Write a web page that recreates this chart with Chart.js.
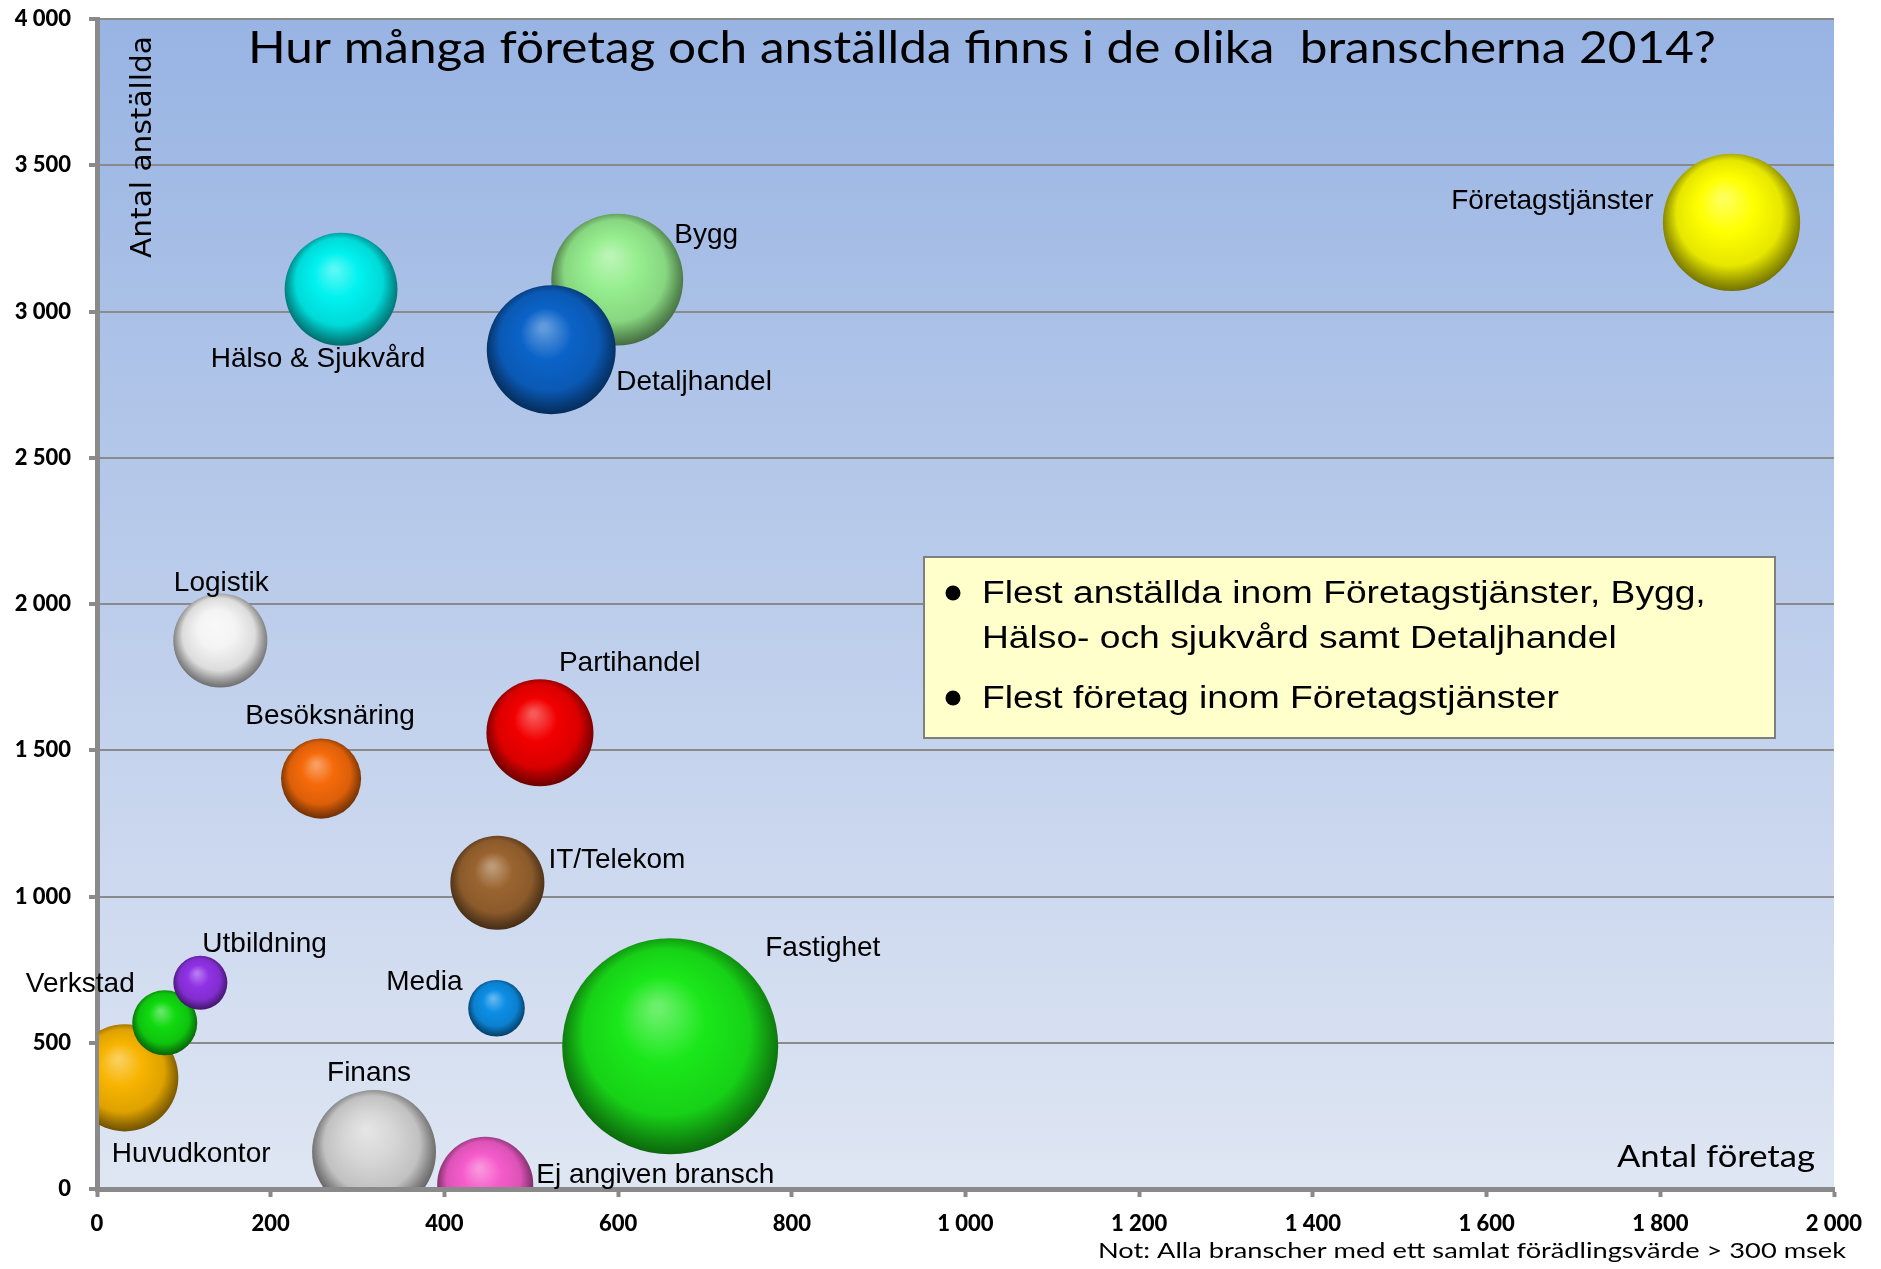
<!DOCTYPE html>
<html lang="sv">
<head>
<meta charset="utf-8">
<title>Företag och anställda per bransch 2014</title>
<script src="https://cdn.jsdelivr.net/npm/chart.js@4.4.1/dist/chart.umd.min.js"></script>
<style>
  html, body { margin: 0; padding: 0; background: #fff; }
  #wrap { width: 1881px; height: 1269px; }
</style>
</head>
<body>
<div id="wrap"><canvas id="chart" width="1881" height="1269"></canvas></div>
<script>
// Data
const branscher = ['Företagstjänster', 'Bygg', 'Detaljhandel', 'Hälso & Sjukvård', 'Logistik',
  'Partihandel', 'Besöksnäring', 'IT/Telekom', 'Fastighet', 'Media', 'Huvudkontor',
  'Verkstad', 'Utbildning', 'Finans', 'Ej angiven bransch'];
const antalForetag = [1882, 599, 523, 281, 142, 510, 258, 461, 660, 460, 32, 78, 119, 319, 447];
const antalAnstallda = [3305, 3109, 2869, 3076, 1875, 1560, 1403, 1047, 488, 618, 380, 568, 705, 127, 14];
// bubblans storlek (ytan) – relativt värde
const bubbelStorlek = [1940, 1790, 1710, 1310, 910, 1180, 660, 910, 4800, 330, 1180, 435, 300, 1580, 950];
const xTicks = [0, 200, 400, 600, 800, 1000, 1200, 1400, 1600, 1800, 2000];
const yTicks = [0, 500, 1000, 1500, 2000, 2500, 3000, 3500, 4000];

const titel = 'Hur många företag och anställda finns i de olika  branscherna 2014?';
const punkter = [
  ['Flest anställda inom Företagstjänster, Bygg,', 'Hälso- och sjukvård samt Detaljhandel'],
  ['Flest företag inom Företagstjänster']
];
const fotnot = 'Not: Alla branscher med ett samlat förädlingsvärde > 300 msek';

// stil
const farger = ['#FFFF00', '#96EE8E', '#0B63C8', '#00F2F0', '#F4F4F4', '#F20000', '#F56A0A',
  '#9A6430', '#1AE81A', '#0C8EE6', '#F7B400', '#10DA10', '#9032E6', '#D6D6D6', '#F55CCB'];
// etikettens läge relativt bubblans mitt: [dx, dy (baslinje), justering]
const etikettLage = [[-78, -13, 'right'], [57, -37, 'left'], [65, 40, 'left'], [-23, 78, 'center'],
  [1, -50, 'center'], [19, -62, 'left'], [9, -55, 'center'], [51, -15, 'left'], [95, -90, 'left'],
  [-34, -18, 'right'], [-13, 84, 'left'], [-30, -31, 'right'], [2, -31, 'left'], [-5, -71, 'center'],
  [51, -2, 'left']];
const bubbelSkala = 108 / Math.sqrt(4800);
const gra = '#8A8A8A';

function blanda(hex, mot, t) {
  const n = parseInt(hex.slice(1), 16);
  const c = [(n >> 16) & 255, (n >> 8) & 255, n & 255];
  return 'rgb(' + c.map((v, i) => Math.round(v + (mot[i] - v) * t)).join(',') + ')';
}

function klotFarg(ctx) {
  const i = ctx.dataIndex;
  const bas = farger[i] || '#888888';
  const chart = ctx.chart;
  if (ctx.type !== 'data' || !chart.chartArea || !ctx.raw) return bas;
  const x = chart.scales.x.getPixelForValue(ctx.raw.x);
  const y = chart.scales.y.getPixelForValue(ctx.raw.y);
  const r = ctx.raw.r;
  const g = chart.ctx.createRadialGradient(x - r * 0.12, y - r * 0.35, r * 0.05, x, y - r * 0.05, r * 1.05);
  g.addColorStop(0, blanda(bas, [255, 255, 255], 0.35));
  g.addColorStop(0.35, bas);
  g.addColorStop(0.72, blanda(bas, [0, 0, 0], 0.1));
  g.addColorStop(0.9, blanda(bas, [0, 0, 0], 0.4));
  g.addColorStop(1, blanda(bas, [0, 0, 0], 0.55));
  return g;
}

function skrivText(ctx, text, x, y, font, align, bredd) {
  ctx.save();
  ctx.font = font;
  ctx.textAlign = 'left';
  ctx.textBaseline = 'alphabetic';
  const w = ctx.measureText(text).width;
  const sx = bredd ? bredd / w : 1;
  const vanster = align === 'right' ? x - w * sx : align === 'center' ? x - w * sx / 2 : x;
  ctx.translate(vanster, y);
  ctx.scale(sx, 1);
  ctx.fillText(text, 0, 0);
  ctx.restore();
}

function tusental(v) {
  return String(v).replace(/\B(?=(\d{3})+(?!\d))/g, ' ');
}

const bakgrund = {
  id: 'bakgrund',
  beforeDraw(chart) {
    const { ctx, chartArea: a } = chart;
    ctx.save();
    ctx.fillStyle = '#fff';
    ctx.fillRect(0, 0, chart.width, chart.height);
    const g = ctx.createLinearGradient(0, a.top, 0, a.bottom);
    g.addColorStop(0, '#98B4E3');
    g.addColorStop(0.5, '#BCCDEB');
    g.addColorStop(1, '#DFE6F3');
    ctx.fillStyle = g;
    ctx.fillRect(a.left, a.top, a.right - a.left, a.bottom - a.top);
    ctx.restore();
  }
};

const texter = {
  id: 'texter',
  afterDatasetsDraw(chart) {
    const { ctx } = chart;
    const meta = chart.getDatasetMeta(0);
    ctx.save();
    ctx.fillStyle = '#000';

    // bubbeletiketter
    meta.data.forEach((el, i) => {
      const [dx, dy, just] = etikettLage[i];
      skrivText(ctx, branscher[i], el.x + dx, el.y + dy, '28px "Liberation Sans", Arial, sans-serif', just);
    });

    // rubrik och axeltitlar
    skrivText(ctx, titel, 248, 63, '44px Lato, Calibri, sans-serif', 'left', 1468);
    skrivText(ctx, 'Antal företag', 1815, 1167, '31px Lato, Calibri, sans-serif', 'right', 198);
    ctx.save();
    ctx.translate(151, 258);
    ctx.rotate(-Math.PI / 2);
    skrivText(ctx, 'Antal anställda', 0, 0, '29px "DejaVu Sans", Verdana, sans-serif', 'left', 222);
    ctx.restore();
    skrivText(ctx, fotnot, 1846, 1258, '22px Lato, Calibri, sans-serif', 'right', 748);

    // textruta
    ctx.fillStyle = '#FFFFCC';
    ctx.fillRect(924, 557, 851, 181);
    ctx.strokeStyle = '#7F7F7F';
    ctx.lineWidth = 2;
    ctx.strokeRect(924, 557, 851, 181);
    ctx.fillStyle = '#000';
    const baslinjer = [[603, 648], [708]];
    punkter.forEach((rader, p) => {
      ctx.beginPath();
      ctx.arc(953, baslinjer[p][0] - 10, 7.5, 0, Math.PI * 2);
      ctx.fill();
      rader.forEach((rad, k) => {
        ctx.save();
        ctx.font = '31px "Liberation Sans", Arial, sans-serif';
        ctx.translate(982, baslinjer[p][k]);
        ctx.scale(1.2, 1);
        ctx.fillText(rad, 0, 0);
        ctx.restore();
      });
    });
    ctx.restore();
  }
};

const punktData = branscher.map((b, i) => ({
  x: antalForetag[i],
  y: antalAnstallda[i],
  r: Math.sqrt(bubbelStorlek[i]) * bubbelSkala
}));

// axlarnas etiketter får inte skjuta in diagramytan
function utanMarginal(s) {
  s.paddingTop = 0;
  s.paddingBottom = 0;
  s.paddingLeft = 0;
  s.paddingRight = 0;
}

const tickFont = { family: 'Lato, Calibri, sans-serif', size: 22, weight: '900' };

new Chart(document.getElementById('chart'), {
  type: 'bubble',
  data: {
    datasets: [{
      label: 'Branscher 2014',
      data: punktData,
      backgroundColor: klotFarg,
      borderWidth: 0,
      clip: { left: -2, top: 0, right: 0, bottom: -2 }
    }]
  },
  options: {
    responsive: false,
    animation: false,
    events: [],
    layout: { autoPadding: false, padding: { left: 0, right: 47, top: 19, bottom: 0 } },
    plugins: {
      legend: { display: false },
      tooltip: { enabled: false },
      title: { display: false }
    },
    scales: {
      x: {
        type: 'linear',
        min: 0,
        max: 2000,
        afterFit: s => { s.height = 80; utanMarginal(s); },
        afterBuildTicks: s => { s.ticks = xTicks.map(v => ({ value: v })); },
        grid: { drawOnChartArea: false, drawTicks: true, tickLength: 8, tickWidth: 4, tickColor: gra },
        border: { display: true, color: gra, width: 5 },
        ticks: {
          autoSkip: false,
          maxRotation: 0,
          padding: 14,
          color: '#000',
          font: tickFont,
          callback: v => tusental(v)
        }
      },
      y: {
        type: 'linear',
        min: 0,
        max: 4000,
        afterFit: s => { s.width = 97; utanMarginal(s); },
        afterBuildTicks: s => { s.ticks = yTicks.map(v => ({ value: v })); },
        grid: { color: gra, lineWidth: 2, drawTicks: true, tickLength: 8, tickWidth: 4, tickColor: gra },
        border: { display: true, color: gra, width: 5 },
        ticks: {
          padding: 18,
          color: '#000',
          font: tickFont,
          callback: v => tusental(v)
        }
      }
    }
  },
  plugins: [bakgrund, texter]
});
</script>
</body>
</html>
